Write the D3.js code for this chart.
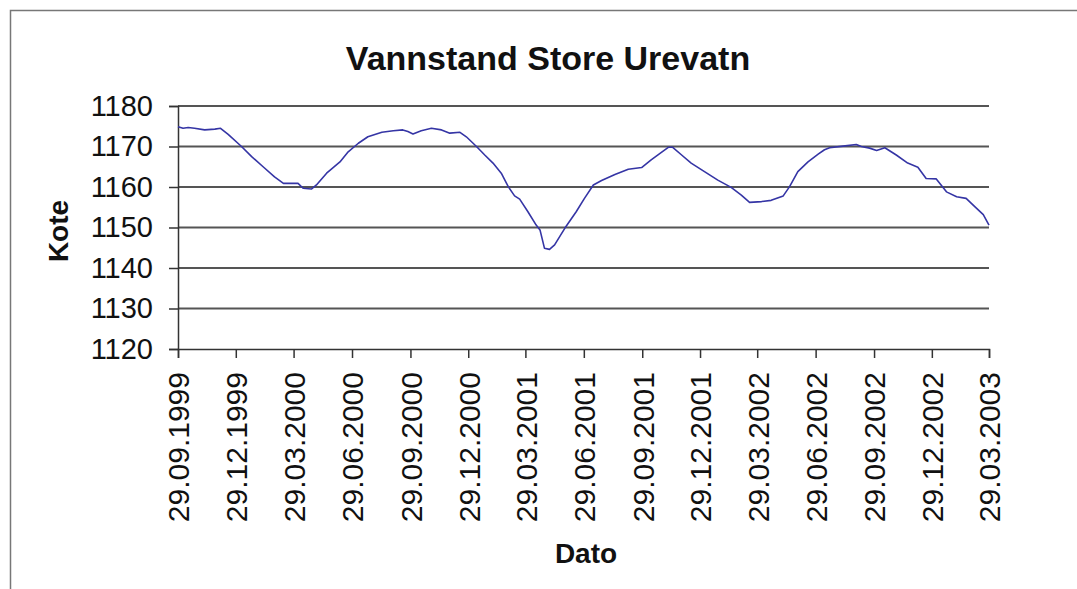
<!DOCTYPE html>
<html>
<head>
<meta charset="utf-8">
<script src="https://cdn.jsdelivr.net/npm/d3@7"></script>
<style>
  body { margin: 0; background: #fff; }
  svg { display: block; font-family: Arial, "Liberation Sans", sans-serif; }
</style>
</head>
<body>
<div id="MyChart"></div>
<script>
// vannstand (kote) lest av kurven
var datoer = [
  "29.09.1999","07.10.1999","15.10.1999","25.10.1999","10.11.1999","26.11.1999","05.12.1999","17.12.1999",
  "07.01.2000","23.01.2000","10.02.2000","28.02.2000","13.03.2000","05.04.2000","13.04.2000","26.04.2000",
  "04.05.2000","20.05.2000","10.06.2000","23.06.2000","09.07.2000","24.07.2000","15.08.2000","02.09.2000",
  "17.09.2000","25.09.2000","03.10.2000","16.10.2000","01.11.2000","17.11.2000","30.11.2000","16.12.2000",
  "26.12.2000","11.01.2001","24.01.2001","06.02.2001","19.02.2001","02.03.2001","12.03.2001","20.03.2001",
  "02.04.2001","15.04.2001","21.04.2001","28.04.2001","06.05.2001","14.05.2001","30.05.2001","17.06.2001",
  "30.06.2001","14.07.2001","27.07.2001","17.08.2001","07.09.2001","28.09.2001","13.10.2001","27.10.2001",
  "09.11.2001","16.11.2001","30.11.2001","15.12.2001","05.01.2002","26.01.2002","16.02.2002","04.03.2002",
  "17.03.2002","05.04.2002","20.04.2002","09.05.2002","19.05.2002","01.06.2002","17.06.2002","03.07.2002",
  "13.07.2002","21.07.2002","11.08.2002","01.09.2002","09.09.2002","22.09.2002","03.10.2002","16.10.2002",
  "03.11.2002","21.11.2002","07.12.2002","20.12.2002","05.01.2003","21.01.2003","06.02.2003","21.02.2003",
  "07.03.2003","20.03.2003","29.03.2003"
];
var kote = [
  1174.9,1174.5,1174.7,1174.5,1174.1,1174.3,1174.5,1173.0,
  1170.0,1167.5,1165.0,1162.5,1160.9,1160.9,1159.7,1159.5,
  1160.5,1163.4,1166.2,1168.7,1170.8,1172.4,1173.5,1173.9,
  1174.1,1173.7,1173.1,1173.9,1174.5,1174.1,1173.3,1173.5,
  1172.4,1170.0,1167.9,1165.9,1163.4,1160.1,1157.8,1157.0,
  1153.9,1150.6,1149.4,1144.9,1144.6,1145.7,1149.8,1153.9,
  1157.2,1160.5,1161.6,1163.1,1164.4,1164.8,1166.7,1168.3,
  1169.8,1169.8,1167.9,1165.9,1163.8,1161.7,1159.9,1158.0,
  1156.2,1156.4,1156.7,1157.8,1160.1,1163.8,1166.2,1168.1,
  1169.2,1169.7,1170.1,1170.5,1170.0,1169.6,1169.0,1169.7,
  1167.9,1165.9,1164.9,1162.1,1162.0,1158.8,1157.6,1157.2,
  1155.1,1153.2,1150.6
];
var xTicks = [
  "29.09.1999","29.12.1999","29.03.2000","29.06.2000","29.09.2000","29.12.2000","29.03.2001",
  "29.06.2001","29.09.2001","29.12.2001","29.03.2002","29.06.2002","29.09.2002","29.12.2002","29.03.2003"
];
var yTicks = [1120, 1130, 1140, 1150, 1160, 1170, 1180];

var parse = d3.timeParse("%d.%m.%Y");
var fmt = d3.timeFormat("%d.%m.%Y");

var W = 1077, H = 589;
var margin = {left: 178, right: 989, top: 106, bottom: 349};

var data = datoer.map(function(d, i) { return { dato: parse(d), kote: kote[i] }; });

var x = d3.scaleTime()
    .domain([parse(xTicks[0]), parse(xTicks[xTicks.length - 1])])
    .range([margin.left, margin.right]);

var y = d3.scaleLinear()
    .domain([1120, 1180])
    .range([margin.bottom, margin.top]);

var svg = d3.select("#MyChart").append("svg")
    .attr("width", W)
    .attr("height", H);

svg.append("rect").attr("width", W).attr("height", H).style("fill", "#fff");

// ramme (bare topp og venstre synlig)
svg.append("path")
    .attr("d", "M10.5," + H + "V10.5H" + W)
    .style("fill", "none")
    .style("stroke", "#777")
    .style("stroke-width", 1.5);

// gridlinjer
svg.append("g")
    .selectAll("line")
    .data(yTicks.slice(1))
    .enter().append("line")
    .attr("x1", margin.left)
    .attr("x2", margin.right)
    .attr("y1", function(d) { return y(d); })
    .attr("y2", function(d) { return y(d); })
    .style("stroke", "#555")
    .style("stroke-width", 2);

// y-akse
var yAxis = svg.append("g")
    .attr("transform", "translate(" + margin.left + ",0)")
    .call(d3.axisLeft(y).tickValues(yTicks).tickSize(9).tickPadding(16).tickFormat(d3.format("d")));

// x-akse
var xAxis = svg.append("g")
    .attr("transform", "translate(0," + margin.bottom + ")")
    .call(d3.axisBottom(x).tickValues(xTicks.map(parse)).tickSize(9).tickFormat(fmt));

[yAxis, xAxis].forEach(function(a) {
  a.select(".domain").style("stroke", "#333").style("stroke-width", 1.5);
  a.selectAll(".tick line").style("stroke", "#333").style("stroke-width", 1.5);
  a.selectAll("text")
    .style("font-family", "Arial, 'Liberation Sans', sans-serif")
    .style("font-size", "29px")
    .style("fill", "#111");
});

xAxis.selectAll("text")
    .style("font-size", "30px")
    .attr("transform", "rotate(-90)")
    .attr("text-anchor", "end")
    .attr("x", -23)
    .attr("y", 0)
    .attr("dy", "0.36em");

// linje
var line = d3.line()
    .x(function(d) { return x(d.dato); })
    .y(function(d) { return y(d.kote); });

svg.append("path")
    .datum(data)
    .attr("d", line)
    .style("fill", "none")
    .style("stroke", "#3535a5")
    .style("stroke-width", 1.6)
    .style("stroke-linejoin", "round");

// titler
svg.append("text")
    .attr("x", 548)
    .attr("y", 70)
    .attr("text-anchor", "middle")
    .style("font-size", "34px")
    .style("font-weight", "bold")
    .style("fill", "#111")
    .text("Vannstand Store Urevatn");

svg.append("text")
    .attr("transform", "translate(68,231) rotate(-90)")
    .attr("text-anchor", "middle")
    .style("font-size", "28px")
    .style("font-weight", "bold")
    .style("fill", "#111")
    .text("Kote");

svg.append("text")
    .attr("x", 586)
    .attr("y", 563)
    .attr("text-anchor", "middle")
    .style("font-size", "28px")
    .style("font-weight", "bold")
    .style("fill", "#111")
    .text("Dato");
</script>
</body>
</html>
